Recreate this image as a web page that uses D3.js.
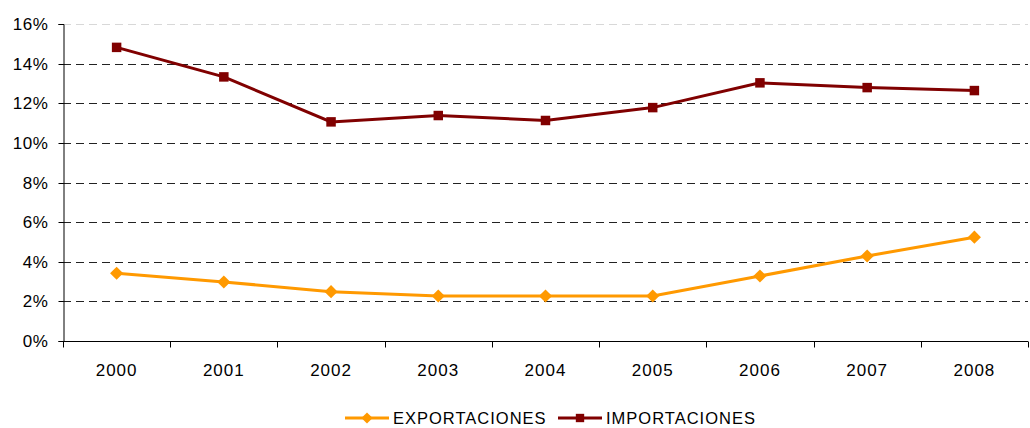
<!DOCTYPE html>
<html>
<head>
<meta charset="utf-8">
<script src="https://cdn.jsdelivr.net/npm/d3@7"></script>
<style>
  body { margin: 0; background: #fff; }
  svg text { font-family: "Liberation Sans", Arial, sans-serif; fill: #000; }
</style>
</head>
<body>
<svg id="chart" width="1030" height="428"></svg>
<script>
const years = ['2000', '2001', '2002', '2003', '2004', '2005', '2006', '2007', '2008']
const exportaciones = [3.42, 2.98, 2.49, 2.27, 2.27, 2.27, 3.28, 4.29, 5.24]
const importaciones = [14.82, 13.33, 11.06, 11.38, 11.13, 11.78, 13.03, 12.79, 12.64]
const yTicks = [0, 2, 4, 6, 8, 10, 12, 14, 16]

const series = [
  {name: 'EXPORTACIONES', values: exportaciones, color: '#FF9900', symbol: d3.symbolDiamond2},
  {name: 'IMPORTACIONES', values: importaciones, color: '#800000', symbol: d3.symbolSquare}
]

const margin = {left: 63, right: 2, top: 24, bottom: 87}
const width = 1030, height = 428
const svg = d3.select('svg#chart')

const x = d3.scaleBand().domain(years).range([margin.left, width - margin.right])
const y = d3.scaleLinear().domain([0, 16]).range([height - margin.bottom, margin.top])

// grid
svg.append('g')
  .selectAll('line')
  .data(yTicks.filter(d => d > 0))
  .enter()
    .append('line')
      .attr('x1', margin.left)
      .attr('x2', width - margin.right)
      .attr('y1', d => Math.round(y(d)) + 0.5)
      .attr('y2', d => Math.round(y(d)) + 0.5)
      .attr('stroke', d => d === 16 ? '#d8d8d8' : '#222')
      .attr('stroke-dasharray', '8,5')

// y axis
const yAxis = svg.append('g')
  .attr('transform', `translate(${margin.left + 0.5},0)`)
  .call(d3.axisLeft(y).tickValues(yTicks).tickFormat(d => d + '%').tickSize(5).tickPadding(10))
yAxis.selectAll('text').attr('font-size', 17).attr('letter-spacing', 0.6).attr('dy', '0.35em')
yAxis.select('.domain').attr('stroke', '#000')
yAxis.selectAll('.tick line').attr('stroke', '#000')
yAxis.selectAll('.tick').attr('transform', d => `translate(0,${Math.round(y(d)) + 0.5})`)

// x axis
const baseY = Math.round(y(0)) + 0.5
const xg = svg.append('g')
xg.append('line')
  .attr('x1', margin.left).attr('x2', width - margin.right)
  .attr('y1', baseY).attr('y2', baseY)
  .attr('stroke', '#000')
xg.selectAll('line.tick')
  .data(years.concat(['end']))
  .enter()
    .append('line')
      .attr('class', 'tick')
      .attr('x1', (d, i) => Math.round(i < years.length ? x(d) : x.range()[1]) + 0.5)
      .attr('x2', (d, i) => Math.round(i < years.length ? x(d) : x.range()[1]) + 0.5)
      .attr('y1', baseY).attr('y2', baseY + 6)
      .attr('stroke', '#000')
xg.selectAll('text')
  .data(years)
  .enter()
    .append('text')
      .attr('x', d => x(d) + x.bandwidth() / 2)
      .attr('y', baseY + 34)
      .attr('text-anchor', 'middle')
      .attr('font-size', 17)
      .attr('letter-spacing', 1)
      .text(d => d)

// lines and markers
const line = d3.line()
  .x((d, i) => x(years[i]) + x.bandwidth() / 2)
  .y(d => y(d))

series.forEach(s => {
  const g = svg.append('g')
  g.append('path')
    .datum(s.values)
    .attr('d', line)
    .attr('fill', 'none')
    .attr('stroke', s.color)
    .attr('stroke-width', 3)
  g.selectAll('path.marker')
    .data(s.values)
    .enter()
      .append('path')
        .attr('class', 'marker')
        .attr('d', d3.symbol().type(s.symbol).size(s.symbol === d3.symbolSquare ? 90 : 110))
        .attr('transform', (d, i) => `translate(${x(years[i]) + x.bandwidth() / 2},${y(d)})`)
        .attr('fill', s.color)
})

// legend
const legendX = [345, 558]
const legendY = 418
series.forEach((s, i) => {
  const g = svg.append('g').attr('transform', `translate(${legendX[i]},${legendY})`)
  g.append('line').attr('x1', 0).attr('x2', 44).attr('stroke', s.color).attr('stroke-width', 3)
  g.append('path')
    .attr('d', d3.symbol().type(s.symbol).size(s.symbol === d3.symbolSquare ? 70 : 80))
    .attr('transform', 'translate(22,0)')
    .attr('fill', s.color)
  g.append('text')
    .attr('x', 48)
    .attr('dy', '0.35em')
    .attr('font-size', 16.5)
    .attr('letter-spacing', 1)
    .text(s.name)
})
</script>
</body>
</html>
